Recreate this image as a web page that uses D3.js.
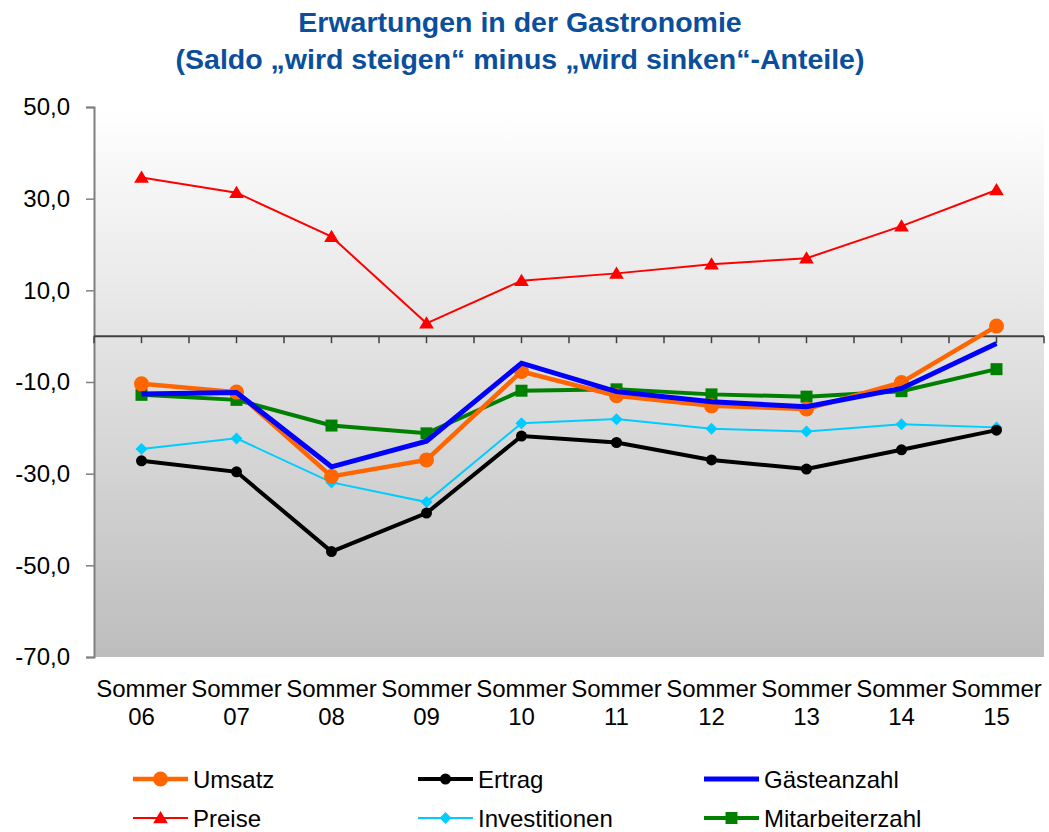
<!DOCTYPE html>
<html>
<head>
<meta charset="utf-8">
<script src="https://cdn.jsdelivr.net/npm/d3@7"></script>
<style>
  html, body { margin: 0; padding: 0; background: #fff; }
  svg { display: block; font-family: Arial, "Liberation Sans", sans-serif; }
</style>
</head>
<body>
<svg id="chart" width="1049" height="832"></svg>
<script>
const categories = ["Sommer 06","Sommer 07","Sommer 08","Sommer 09","Sommer 10","Sommer 11","Sommer 12","Sommer 13","Sommer 14","Sommer 15"];
const umsatz          = [-10.4, -12.2, -30.6, -27.0,  -7.7, -13.0, -15.2, -15.9, -10.1,   2.2];
const ertrag          = [-27.2, -29.6, -47.0, -38.6, -21.8, -23.2, -27.0, -29.0, -24.8, -20.5];
const gaesteanzahl    = [-12.6, -12.3, -28.5, -22.9,  -5.9, -12.1, -14.3, -15.4, -11.4,  -1.6];
const preise          = [ 34.6,  31.3,  21.7,   2.8,  12.1,  13.7,  15.7,  17.0,  24.0,  31.9];
const investitionen   = [-24.6, -22.3, -31.9, -36.2, -19.0, -18.1, -20.2, -20.8, -19.2, -19.9];
const mitarbeiterzahl = [-12.8, -13.9, -19.5, -21.2, -11.9, -11.6, -12.7, -13.2, -12.0,  -7.2];
const yTicks = [50, 30, 10, -10, -30, -50, -70];
const titleLines = ["Erwartungen in der Gastronomie", "(Saldo \u201Ewird steigen\u201C minus \u201Ewird sinken\u201C-Anteile)"];

const series = [
  {name: "Umsatz", values: umsatz, color: "#FF6600", width: 4.5, marker: "circle", size: 7.5},
  {name: "Ertrag", values: ertrag, color: "#000000", width: 4, marker: "circle", size: 5.5},
  {name: "Gästeanzahl", values: gaesteanzahl, color: "#0000FF", width: 5, marker: "none", size: 0},
  {name: "Preise", values: preise, color: "#FF0000", width: 2, marker: "triangle", size: 7},
  {name: "Investitionen", values: investitionen, color: "#00CCFF", width: 2, marker: "diamond", size: 6},
  {name: "Mitarbeiterzahl", values: mitarbeiterzahl, color: "#008000", width: 4, marker: "square", size: 6}
];
const drawOrder = ["Investitionen", "Ertrag", "Mitarbeiterzahl", "Umsatz", "Gästeanzahl", "Preise"];

const svg = d3.select("#chart");
const L = 94, R = 1044, T = 107, B = 657;

const x = d3.scaleBand().domain(categories).range([L, R]);
const xc = d => x(d) + x.bandwidth() / 2;
const y = d3.scaleLinear().domain([-70, 50]).range([B, T]);

const defs = svg.append("defs");
const grad = defs.append("linearGradient").attr("id", "bg").attr("x1", 0).attr("y1", 0).attr("x2", 0).attr("y2", 1);
grad.append("stop").attr("offset", "0%").attr("stop-color", "#ffffff");
grad.append("stop").attr("offset", "100%").attr("stop-color", "#bdbdbd");
svg.append("rect").attr("x", L).attr("y", T).attr("width", R - L).attr("height", B - T).attr("fill", "url(#bg)");

// title
svg.append("g").selectAll("text").data(titleLines).join("text")
  .attr("x", 520).attr("y", (d, i) => 32 + i * 37)
  .attr("text-anchor", "middle")
  .attr("font-size", 28.5).attr("font-weight", "bold").attr("fill", "#0B4F9C")
  .text(d => d);

// y axis
const yAxis = d3.axisLeft(y).tickValues(yTicks).tickSize(8).tickPadding(16)
  .tickFormat(d => d3.format(".1f")(d).replace(".", ",").replace("\u2212", "-"));
const yg = svg.append("g").attr("transform", `translate(${L},0)`).call(yAxis);
yg.select(".domain").attr("stroke", "#7f7f7f").attr("stroke-width", 2);
yg.selectAll(".tick line").attr("stroke", "#7f7f7f").attr("stroke-width", 1.5);
yg.selectAll(".tick text").attr("font-size", 24).attr("fill", "#000").attr("font-family", "Arial, 'Liberation Sans', sans-serif");

// zero line with ticks
const zeroY = y(0);
svg.append("line").attr("x1", L).attr("x2", R).attr("y1", zeroY).attr("y2", zeroY)
  .attr("stroke", "#404040").attr("stroke-width", 2);
const tickXs = [];
categories.forEach(c => { tickXs.push(x(c)); tickXs.push(xc(c)); });
tickXs.push(R);
svg.append("g").selectAll("line").data(tickXs).join("line")
  .attr("x1", d => d).attr("x2", d => d).attr("y1", zeroY).attr("y2", zeroY + 7)
  .attr("stroke", "#404040").attr("stroke-width", 1.5);

// x labels
const xl = svg.append("g").selectAll("text").data(categories).join("text")
  .attr("text-anchor", "middle").attr("font-size", 24).attr("fill", "#000");
xl.append("tspan").attr("x", d => xc(d)).attr("y", 697).text(d => d.split(" ")[0]);
xl.append("tspan").attr("x", d => xc(d)).attr("y", 725).text(d => d.split(" ")[1]);

function markerPath(type, s) {
  if (type === "circle") return d3.symbol(d3.symbolCircle, Math.PI * s * s)();
  if (type === "square") return `M${-s},${-s}H${s}V${s}H${-s}Z`;
  if (type === "diamond") return `M0,${-s}L${s},0L0,${s}L${-s},0Z`;
  if (type === "triangle") return `M0,${-s}L${s * 1.05},${s * 0.75}L${-s * 1.05},${s * 0.75}Z`;
  return "";
}

const line = d3.line().x((d, i) => xc(categories[i])).y(d => y(d));
const plot = svg.append("g");
drawOrder.forEach(nm => {
  const s = series.find(d => d.name === nm);
  const g = plot.append("g");
  g.append("path").attr("d", line(s.values)).attr("fill", "none")
    .attr("stroke", s.color).attr("stroke-width", s.width).attr("stroke-linejoin", "miter");
  if (s.marker !== "none") {
    g.selectAll("path.m").data(s.values).join("path").attr("class", "m")
      .attr("transform", (d, i) => `translate(${xc(categories[i])},${y(d)})`)
      .attr("d", markerPath(s.marker, s.size)).attr("fill", s.color);
  }
});

// legend
const legCols = [133, 418, 704];
const legRows = [779, 818];
const lg = svg.append("g");
series.forEach((s, i) => {
  const cx = legCols[i % 3], cy = legRows[Math.floor(i / 3)];
  const g = lg.append("g").attr("transform", `translate(${cx},${cy})`);
  g.append("line").attr("x1", 0).attr("x2", 55).attr("y1", 0).attr("y2", 0)
    .attr("stroke", s.color).attr("stroke-width", Math.max(s.width, 2));
  if (s.marker !== "none") {
    g.append("path").attr("transform", "translate(27.5,0)")
      .attr("d", markerPath(s.marker, s.size)).attr("fill", s.color);
  }
  g.append("text").attr("x", 60).attr("y", 8.5).attr("font-size", 24).attr("fill", "#000").text(s.name);
});
</script>
</body>
</html>
